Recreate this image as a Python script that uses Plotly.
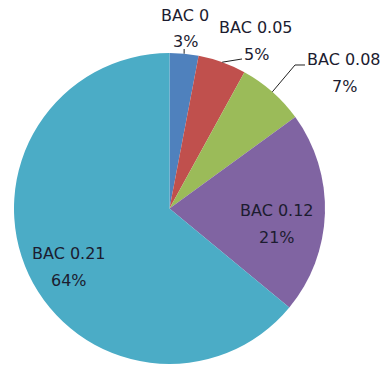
import math
import plotly.graph_objects as go

# ---- data ----
labels = ["BAC 0", "BAC 0.05", "BAC 0.08", "BAC 0.12", "BAC 0.21"]
values = [3, 5, 7, 21, 64]

# ---- styles / layout ----
colors = ["#4F81BD", "#C0504D", "#9BBB59", "#8064A2", "#4BACC6"]
W, H = 384, 367
cx, cy, r = 169.5, 208.5, 155.5            # pie centre / radius in pixels
# label block centres (pixels)
label_centers = [(185, 28.5), (256, 41), (344, 73), (276.5, 224), (69, 267)]
line_gap = 26.5
leader_bends = [[(None, 49)], [(242, 59)], [(295, 65), (305, 65)], None, None]
FONT = dict(family="DejaVu Sans, sans-serif", size=16, color="#1c1c30")


def px(x, y):
    return x / W, 1 - y / H


fig = go.Figure(go.Pie(
    labels=labels,
    values=values,
    sort=False,
    direction="clockwise",
    rotation=0,
    marker=dict(colors=colors, line=dict(width=0)),
    textinfo="none",
    showlegend=False,
    hoverinfo="label+percent",
    domain=dict(x=[(cx - r) / W, (cx + r) / W], y=[(H - cy - r) / H, (H - cy + r) / H]),
))

total = sum(values)
annotations = []
shapes = []
cum = 0
for lab, v, (lx, ly), bends in zip(labels, values, label_centers, leader_bends):
    pct = f"{round(100 * v / total)}%"
    for txt, yy in ((lab, ly - line_gap / 2), (pct, ly + line_gap / 2)):
        ax_, ay_ = px(lx, yy)
        annotations.append(dict(x=ax_, y=ay_, xref="paper", yref="paper", text=txt,
                                showarrow=False, xanchor="center", yanchor="middle",
                                font=FONT))
    mid = 2 * math.pi * (cum + v / 2) / total
    cum += v
    if bends:
        ex = cx + r * math.sin(mid)
        ey = cy - r * math.cos(mid)
        pts = [(ex, ey)] + [((ex if bx is None else bx), by) for bx, by in bends]
        path = ""
        for i, (x, y) in enumerate(pts):
            X, Y = px(x, y)
            path += ("M" if i == 0 else " L") + f" {X:.5f},{Y:.5f}"
        shapes.append(dict(type="path", path=path, xref="paper", yref="paper",
                           line=dict(color="#222222", width=1)))

fig.update_layout(
    width=W, height=H,
    margin=dict(l=0, r=0, t=0, b=0),
    paper_bgcolor="white",
    plot_bgcolor="white",
    annotations=annotations,
    shapes=shapes,
)

fig.write_html("out.html",
               config={"displayModeBar": False},
               post_script="document.body.style.margin='0';document.body.style.overflow='hidden';")
